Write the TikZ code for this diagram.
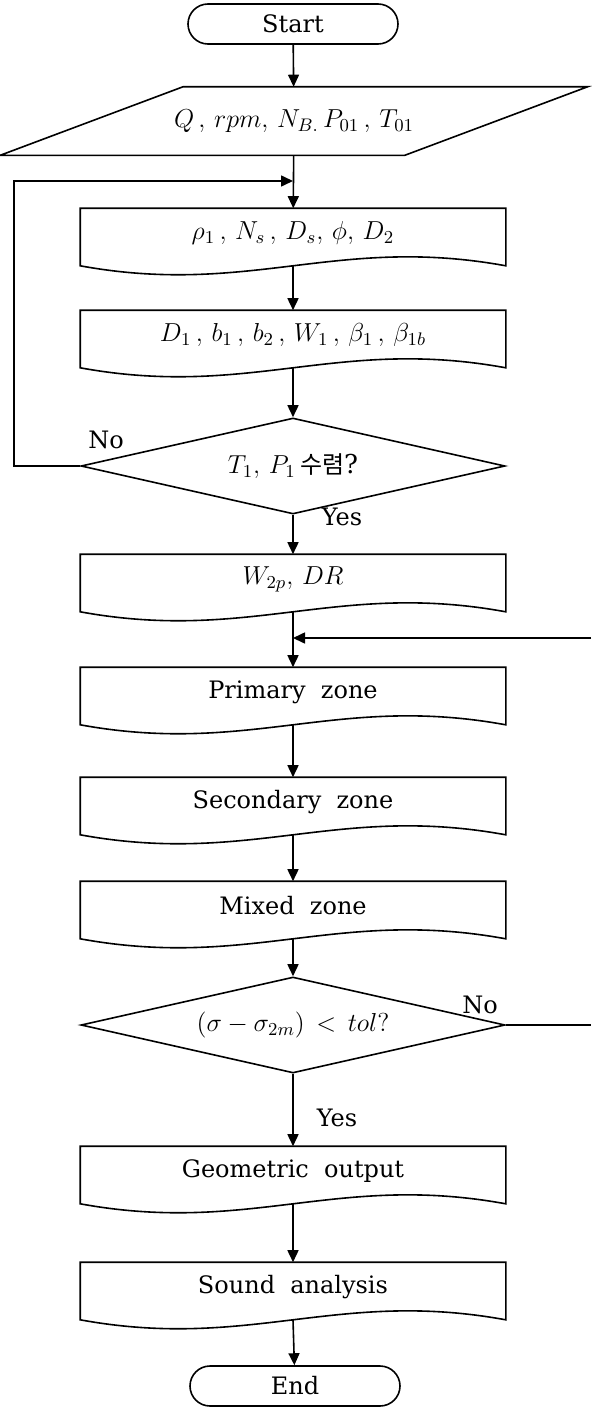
\RequirePackage{fix-cm}
\documentclass[tikz,border=0pt]{standalone}
\usepackage{fontspec}
\setmainfont{DejaVu Serif}
\newfontfamily\korfont{Noto Sans CJK KR}
\usetikzlibrary{shapes.geometric,arrows.meta}

\tikzset{
  term/.style={draw, rounded corners=10pt, minimum width=105pt, minimum height=20pt, inner sep=0pt},
  inbox/.style={minimum width=201.5pt, minimum height=33.5pt, inner sep=0pt},
  docbox/.style={minimum width=212pt, minimum height=24pt, inner sep=0pt},
  decide/.style={draw, diamond, aspect=4.4, minimum width=212pt, minimum height=48pt, inner sep=0pt},
  mathtext/.style={font=\fontsize{13}{16}\selectfont},
  flow/.style={-{Triangle[length=6pt,width=5.5pt]}},
}

% document symbol round a docbox node
\newcommand{\docframe}[1]{%
  \draw (#1.north west) -- (#1.north east) -- ([yshift=-4pt]#1.south east)
    .. controls ([xshift=-84.8pt,yshift=11.5pt]#1.south east)
    and ([xshift=84.8pt,yshift=-19.5pt]#1.south west)
    .. ([yshift=-4pt]#1.south west) -- cycle;}

\begin{document}
\begin{tikzpicture}[x=0.5pt, y=-0.5pt, line width=0.8pt, font=\fontsize{12}{14}\selectfont]
  \useasboundingbox (0,0) rectangle (591,1408);
  % nodes
  \node[term] (start) at (293,24) {Start};
  \node[inbox, mathtext] (in) at (294,121) {$Q\,,\,rpm,\,N_{B.}\,P_{01}\,,\,T_{01}$};
  \node[docbox, mathtext] (b1) at (293,233) {$\rho_1\,,\,N_s\,,\,D_s,\,\phi,\,D_2$};
  \node[docbox, mathtext] (b2) at (293,335) {$D_1\,,\,b_1\,,\,b_2\,,\,W_1\,,\,\beta_1\,,\,\beta_{1b}$};
  \node[decide, mathtext] (d1) at (293,466) {$T_1,\,P_1$\,{\korfont\fontsize{12}{14}\selectfont 수렴}?};
  \node[docbox, mathtext] (b3) at (293,579) {$W_{2p},\,DR$};
  \node[docbox] (b4) at (293,692) {Primary\ \ zone};
  \node[docbox] (b5) at (293,802) {Secondary\ \ zone};
  \node[docbox] (b6) at (293,906) {Mixed\ \ zone};
  \node[decide, mathtext] (d2) at (293,1025) {$(\sigma-\sigma_{2m})\,<\,tol?$};
  \node[docbox] (b7) at (293,1171) {Geometric\ \ output};
  \node[docbox] (b8) at (293,1287) {Sound\ \ analysis};
  \node[term] (end) at (295,1386) {End};
  \draw ([xshift=45.75pt]in.north west) -- ([xshift=45.75pt]in.north east)
    -- ([xshift=-45.75pt]in.south east) -- ([xshift=-45.75pt]in.south west) -- cycle;
  \docframe{b1}
  \docframe{b2}
  \docframe{b3}
  \docframe{b4}
  \docframe{b5}
  \docframe{b6}
  \docframe{b7}
  \docframe{b8}
  % labels
  \node (no1) at (106,440) {No};
  \node (yes1) at (342,517) {Yes};
  \node (no2) at (480,1005) {No};
  \node (yes2) at (337,1118) {Yes};
  % lines
  \coordinate (lp) at (14,181);
  \coordinate (j1) at (293,181);
  \coordinate (r1) at (591,1025);
  \coordinate (r2) at (591,638);
  \coordinate (j2) at (293,638);
  \draw[flow] (start) -- (in);
  \draw[flow] (in) -- (b1);
  \draw[flow] ([yshift=-4pt]b1.south) -- (b2);
  \draw[flow] ([yshift=-4pt]b2.south) -- (d1);
  \draw[flow] (d1) -- (b3);
  \draw[flow] ([yshift=-4pt]b3.south) -- (b4);
  \draw[flow] ([yshift=-4pt]b4.south) -- (b5);
  \draw[flow] ([yshift=-4pt]b5.south) -- (b6);
  \draw[flow] ([yshift=-4pt]b6.south) -- (d2);
  \draw[flow] (d2) -- (b7);
  \draw[flow] ([yshift=-4pt]b7.south) -- (b8);
  \draw[flow] ([yshift=-4pt]b8.south) -- (end);
  \draw[flow] (d1.west) -| (lp) -- (j1);
  \draw (d2.east) -- (r1);
  \draw[flow] (r2) -- (j2);
\end{tikzpicture}
\end{document}
